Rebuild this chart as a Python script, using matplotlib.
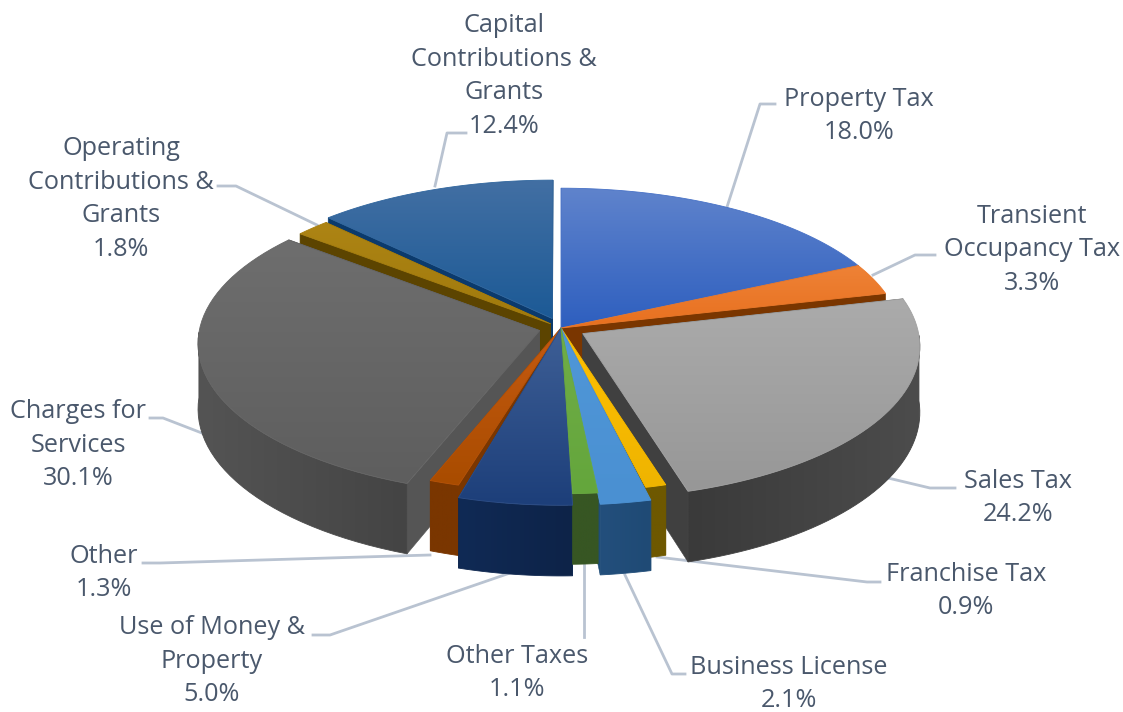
import numpy as np
import matplotlib

matplotlib.use("Agg")
import matplotlib.pyplot as plt
from matplotlib.colors import to_rgb
from matplotlib.patches import Polygon

plt.rcParams["font.family"] = ["Open Sans", "DejaVu Sans"]

# data, clockwise from 12 o'clock
names = [
    "Property Tax",
    "Transient\nOccupancy Tax",
    "Sales Tax",
    "Franchise Tax",
    "Business License",
    "Other Taxes",
    "Use of Money &\nProperty",
    "Other",
    "Charges for\nServices",
    "Operating\nContributions &\nGrants",
    "Capital\nContributions &\nGrants",
]
values = [18.0, 3.3, 24.2, 0.9, 2.1, 1.1, 5.0, 1.3, 30.1, 1.8, 12.4]

# styling per slice
explode = [0, 0, 25, 0, 0, 0, 0, 0, 22, 14, 23]
stretch_x = [1, 1, 0.985, 1, 1.06, 1, 1, 1, 1, 1, 1]
stretch_y = [1, 1, 1, 1, 1.08, 1.01, 1.08, 1, 1, 1, 1]
top_colors = [
    ("#5f83cc", "#2e5fbf"),
    ("#ee8236", "#e8701f"),
    ("#ababab", "#979797"),
    ("#ffc000", "#efb400"),
    ("#5097d8", "#4a90d2"),
    ("#70ad47", "#64a63c"),
    ("#3e5f96", "#1d3f7a"),
    ("#c55a11", "#a94c00"),
    ("#6e6e6e", "#5e5e5e"),
    ("#ad8414", "#a07a0c"),
    ("#426fa3", "#1c5a96"),
]
wall_colors = ["#24498f", "#7a3600", "#404040", "#6e5800", "#1f4e79", "#375623",
               "#0e2650", "#7a3600", "#555555", "#5c4400", "#0b3a6c"]
rim_colors = [
    ("#24498f", "#24498f"),
    ("#7a3600", "#7a3600"),
    ("#3a3a3a", "#4c4c4c"),
    ("#6e5800", "#6e5800"),
    ("#234f7c", "#1f4a75"),
    ("#375623", "#375623"),
    ("#102a55", "#0d2348"),
    ("#7a3600", "#7a3600"),
    ("#545454", "#444444"),
    ("#5c4400", "#5c4400"),
    ("#0b3a6c", "#0b3a6c"),
]

# label text centres and leader lines, in picture pixels
label_xy = [(859, 116), (1032, 250), (1018, 498), (966, 591), (789, 684), (517, 673),
            (212, 661), (104, 573), (78, 445), (121, 199), (504, 76)]
leaders = [
    [(775, 104), (760, 104), (727, 207)],
    [(935, 255), (915, 255), (873, 275)],
    [(955, 488), (930, 488), (888, 478)],
    [(880, 582), (867, 582), (657, 557)],
    [(685, 674), (672, 674), (625, 575)],
    [(584, 637), (584, 565)],
    [(313, 635), (330, 635), (510, 573)],
    [(143, 563), (160, 563), (430, 555)],
    [(150, 418), (163, 418), (207, 435)],
    [(218, 186), (236, 186), (317, 225)],
    [(466, 133), (447, 133), (435, 186)],
]

cx, cy = 561, 328
rx, ry = 340, 151
persp = 0.08
depth = 65
text_color = "#4a586c"
line_color = "#b9c3d1"


def project(x, z):
    w = 1 + persp * z
    return cx + rx * x / w, cy - ry * z / w, depth / w


def gradient_poly(ax, pts, c0, c1, zorder, horizontal=False):
    pts = np.asarray(pts)
    x0, y0 = pts.min(axis=0)
    x1, y1 = pts.max(axis=0)
    t = np.linspace(0, 1, 64)[:, None]
    img = (1 - t) * np.array(to_rgb(c0)) + t * np.array(to_rgb(c1))
    img = img[:, None, :]
    if horizontal:
        img = img.transpose(1, 0, 2)
    im = ax.imshow(img, extent=(x0, x1 + 0.01, y1 + 0.01, y0), origin="upper",
                   aspect="auto", interpolation="bilinear", zorder=zorder)
    patch = Polygon(pts, closed=True, facecolor="none",
                    edgecolor=np.mean([to_rgb(c0), to_rgb(c1)], axis=0),
                    linewidth=0.6, zorder=zorder + 0.1)
    ax.add_patch(patch)
    im.set_clip_path(patch)


fig = plt.figure(figsize=(11.23, 7.12), dpi=100)
ax = fig.add_axes([0, 0, 1, 1])
ax.set_xlim(0, 1123)
ax.set_ylim(712, 0)
ax.axis("off")
ax.set_autoscale_on(False)

total = sum(values)
edges = np.concatenate(([0], np.cumsum(values))) / total * 2 * np.pi

tops, rims, walls = [], [], []
for i in range(len(values)):
    t = np.linspace(edges[i], edges[i + 1], 50)
    mid = (edges[i] + edges[i + 1]) / 2
    e = explode[i] / rx
    ox, oz = e * np.sin(mid), e * np.cos(mid)

    ax_px, ay_px, ad = project(ox, oz)
    ox_px, oy_px, od = project(ox + np.sin(t), oz + np.cos(t))
    ox_px = ax_px + (ox_px - ax_px) * stretch_x[i]
    oy_px = ay_px + (oy_px - ay_px) * stretch_y[i]

    arc = np.column_stack((ox_px, oy_px))
    arc_low = np.column_stack((ox_px, oy_px + od))
    apex = (ax_px, ay_px)
    apex_low = (ax_px, ay_px + ad)

    tops.append((i, np.vstack(([apex], arc))))
    # back part of the rim can't be seen, it would only poke through the gaps
    front = np.cos(t) < 0
    if front.sum() > 1:
        rims.append((i, np.vstack((arc[front], arc_low[front][::-1]))))
    walls.append((i, np.array([apex, arc[0], arc_low[0], apex_low])))
    walls.append((i, np.array([apex, arc[-1], arc_low[-1], apex_low])))

# back slices first
mids = (edges[:-1] + edges[1:]) / 2
order = np.argsort(-np.cos(mids))
rank = {int(s): n for n, s in enumerate(order)}

# leader lines sit under the pie
for path in leaders:
    xs, ys = zip(*path)
    ax.plot(xs, ys, color=line_color, lw=2.0, zorder=1, solid_joinstyle="round")

for i, pts in sorted(walls, key=lambda w: rank[w[0]]):
    ax.add_patch(Polygon(pts, closed=True, facecolor=wall_colors[i],
                         edgecolor=wall_colors[i], linewidth=0.4,
                         zorder=10 + rank[i] * 0.1))

for i, pts in rims:
    gradient_poly(ax, pts, rim_colors[i][0], rim_colors[i][1],
                  20 + rank[i], horizontal=True)

for i, pts in tops:
    gradient_poly(ax, pts, top_colors[i][0], top_colors[i][1], 40 + rank[i])

for i in range(len(values)):
    ax.text(label_xy[i][0], label_xy[i][1], f"{names[i]}\n{values[i]:.1f}%",
            ha="center", va="center", fontsize=18.2, color=text_color,
            linespacing=1.45, zorder=60)

fig.savefig("out.png", dpi=100)
